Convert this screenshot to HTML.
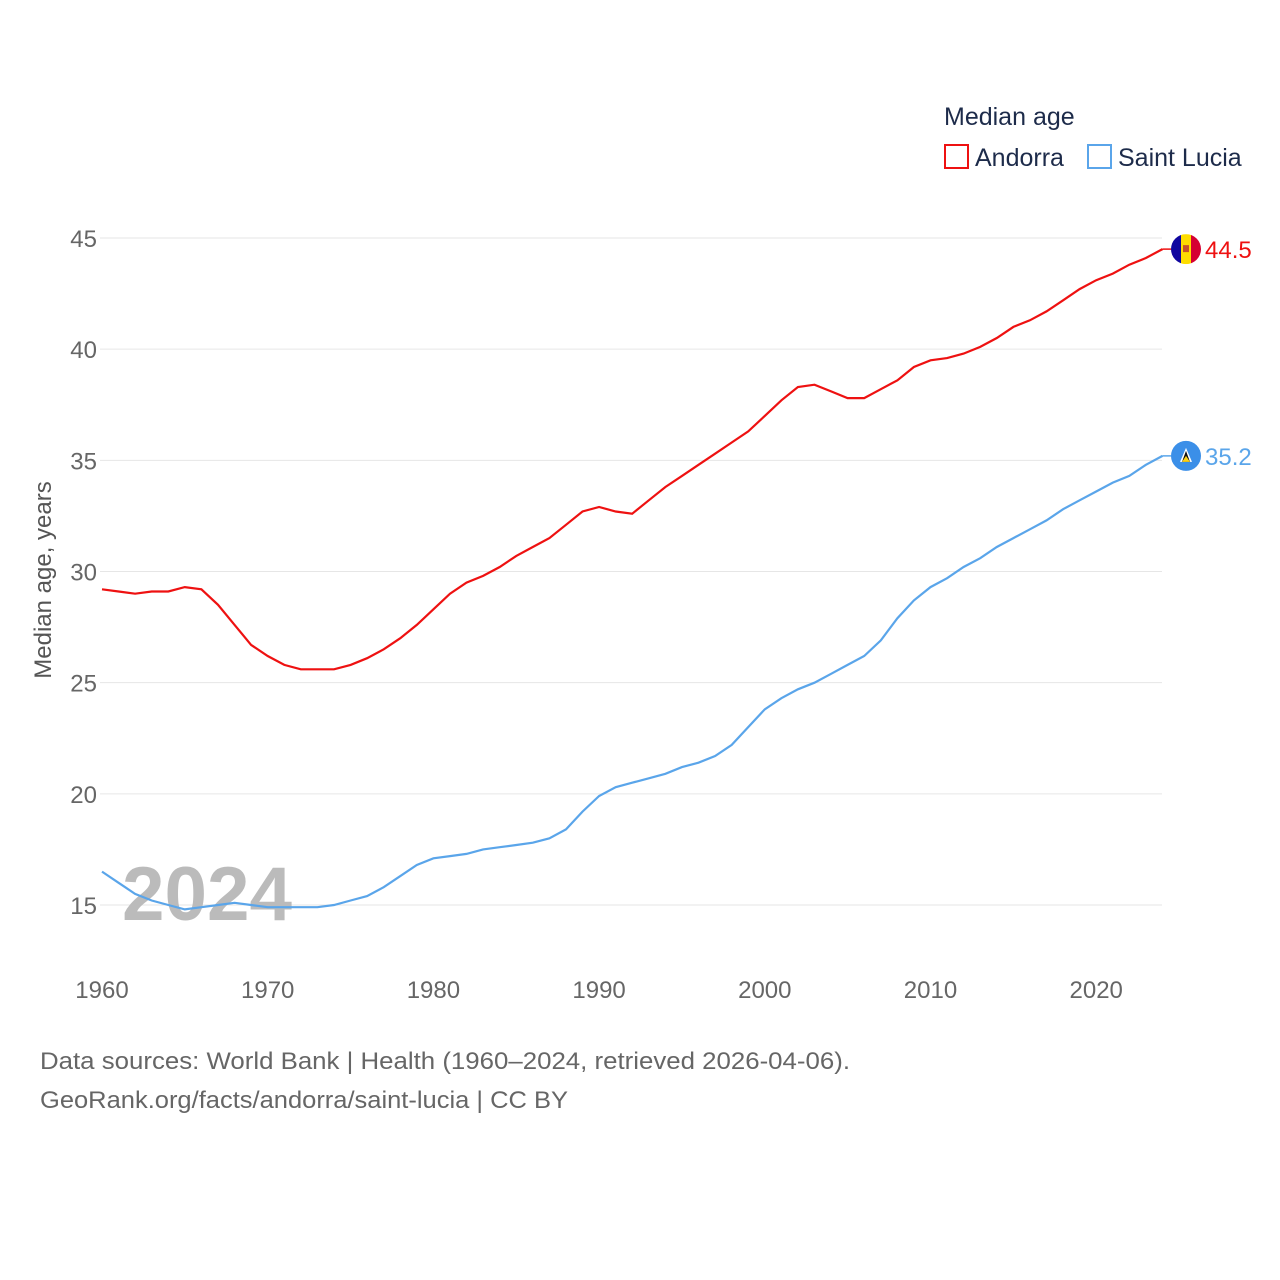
<!DOCTYPE html>
<html><head><meta charset="utf-8">
<style>
body{margin:0;background:#fff;font-family:"Liberation Sans",sans-serif;}
svg{display:block}
text{font-family:"Liberation Sans",sans-serif}
</style></head>
<body>
<svg id="chart" width="1280" height="1280" xmlns="http://www.w3.org/2000/svg">
<defs>
<clipPath id="cA"><circle cx="1186" cy="248" r="15"/></clipPath>
</defs>
<text x="944" y="125" font-size="25" fill="#1d2b4a">Median age</text>
<g>
<rect x="945" y="145" width="23" height="23" fill="none" stroke="#ee1111" stroke-width="2"/>
<text x="975" y="166" font-size="25" fill="#1d2b4a">Andorra</text></g>
<g>
<rect x="1088" y="145" width="23" height="23" fill="none" stroke="#5aa5ea" stroke-width="2"/>
<text x="1118" y="166" font-size="25" fill="#1d2b4a">Saint Lucia</text></g>
<g id="grid"></g>
<text x="122" y="920" font-size="76" font-weight="bold" fill="#bbbbbb" textLength="170" lengthAdjust="spacingAndGlyphs">2024</text>
<g id="series"></g>
<text transform="translate(51,580) rotate(-90)" text-anchor="middle" font-size="24" fill="#555">Median age, years</text>
<text x="40" y="1069" font-size="24" fill="#666" textLength="810" lengthAdjust="spacingAndGlyphs">Data sources: World Bank | Health (1960–2024, retrieved 2026-04-06).</text>
<text x="40" y="1108" font-size="24" fill="#666" textLength="528" lengthAdjust="spacingAndGlyphs">GeoRank.org/facts/andorra/saint-lucia | CC BY</text>
</svg>
<script>
const years=[];for(let y=1960;y<=2024;y++)years.push(y);
const andorra=[29.2,29.1,29.0,29.1,29.1,29.3,29.2,28.5,27.6,26.7,26.2,25.8,25.6,25.6,25.6,25.8,26.1,26.5,27.0,27.6,28.3,29.0,29.5,29.8,30.2,30.7,31.1,31.5,32.1,32.7,32.9,32.7,32.6,33.2,33.8,34.3,34.8,35.3,35.8,36.3,37.0,37.7,38.3,38.4,38.1,37.8,37.8,38.2,38.6,39.2,39.5,39.6,39.8,40.1,40.5,41.0,41.3,41.7,42.2,42.7,43.1,43.4,43.8,44.1,44.5];
const stlucia=[16.5,16.0,15.5,15.2,15.0,14.8,14.9,15.0,15.1,15.0,14.9,14.9,14.9,14.9,15.0,15.2,15.4,15.8,16.3,16.8,17.1,17.2,17.3,17.5,17.6,17.7,17.8,18.0,18.4,19.2,19.9,20.3,20.5,20.7,20.9,21.2,21.4,21.7,22.2,23.0,23.8,24.3,24.7,25.0,25.4,25.8,26.2,26.9,27.9,28.7,29.3,29.7,30.2,30.6,31.1,31.5,31.9,32.3,32.8,33.2,33.6,34.0,34.3,34.8,35.2];
const yTicks=[15,20,25,30,35,40,45];
const xTicks=[1960,1970,1980,1990,2000,2010,2020];
const X=v=>102+(v-1960)*16.57;
const Y=v=>238+(45-v)*22.233;
const NS='http://www.w3.org/2000/svg';
const grid=document.getElementById('grid'),ser=document.getElementById('series');
function mk(tag,attrs,parent){const e=document.createElementNS(NS,tag);for(const k in attrs)e.setAttribute(k,attrs[k]);parent.appendChild(e);return e;}
yTicks.forEach(t=>{
 const l=mk('line',{x1:100,x2:1162,y1:Y(t),y2:Y(t),stroke:'#e6e6e6','stroke-width':1},grid);
 
 
 const tx=mk('text',{x:97,y:Y(t)+9,'text-anchor':'end','font-size':24,fill:'#666'},grid);
 tx.textContent=t;
 
 
});
xTicks.forEach(t=>{
 const tx=mk('text',{x:X(t),y:998,'text-anchor':'middle','font-size':24,fill:'#666'},grid);
 tx.textContent=t;
 
 
});
function line(data,color,name,flag){
 const d=data.map((v,i)=>(i?'L':'M')+X(years[i]).toFixed(1)+','+Y(v).toFixed(1)).join('');
 const p=mk('path',{d:d,fill:'none',stroke:color,'stroke-width':2.2},ser);
 
 
 const last=data[data.length-1];
 const cy=Y(last);
 mk('line',{x1:X(2024),x2:1171,y1:cy,y2:cy,stroke:color,'stroke-width':1.5},ser);
 const g=mk('g',{},ser);
 
 
 flag(g,cy);
 const t=mk('text',{x:1205,y:cy+9,'font-size':24,fill:color},ser);
 t.textContent=last.toFixed(1);
 
 
}
line(andorra,'#ee1111','andorra',(g,cy)=>{
 const cp=document.getElementById('cA').firstElementChild;cp.setAttribute('cy',cy);
 const h=mk('g',{'clip-path':'url(#cA)'},g);
 mk('rect',{x:1171,y:cy-15,width:10,height:30,fill:'#10069f'},h);
 mk('rect',{x:1181,y:cy-15,width:10,height:30,fill:'#fedd00'},h);
 mk('rect',{x:1191,y:cy-15,width:10,height:30,fill:'#d50032'},h);
 mk('rect',{x:1183,y:cy-4,width:6,height:7,fill:'#c7522a'},h);
});
line(stlucia,'#5aa5ea','saint-lucia',(g,cy)=>{
 mk('circle',{cx:1186,cy:cy,r:15,fill:'#3b8fe8'},g);
 mk('polygon',{points:`1186,${cy-8} 1192,${cy+6} 1180,${cy+6}`,fill:'#fff'},g);
 mk('polygon',{points:`1186,${cy-5} 1190,${cy+6} 1182,${cy+6}`,fill:'#111'},g);
 mk('polygon',{points:`1186,${cy} 1190,${cy+6} 1182,${cy+6}`,fill:'#fcd116'},g);
});
</script>
</body></html>
